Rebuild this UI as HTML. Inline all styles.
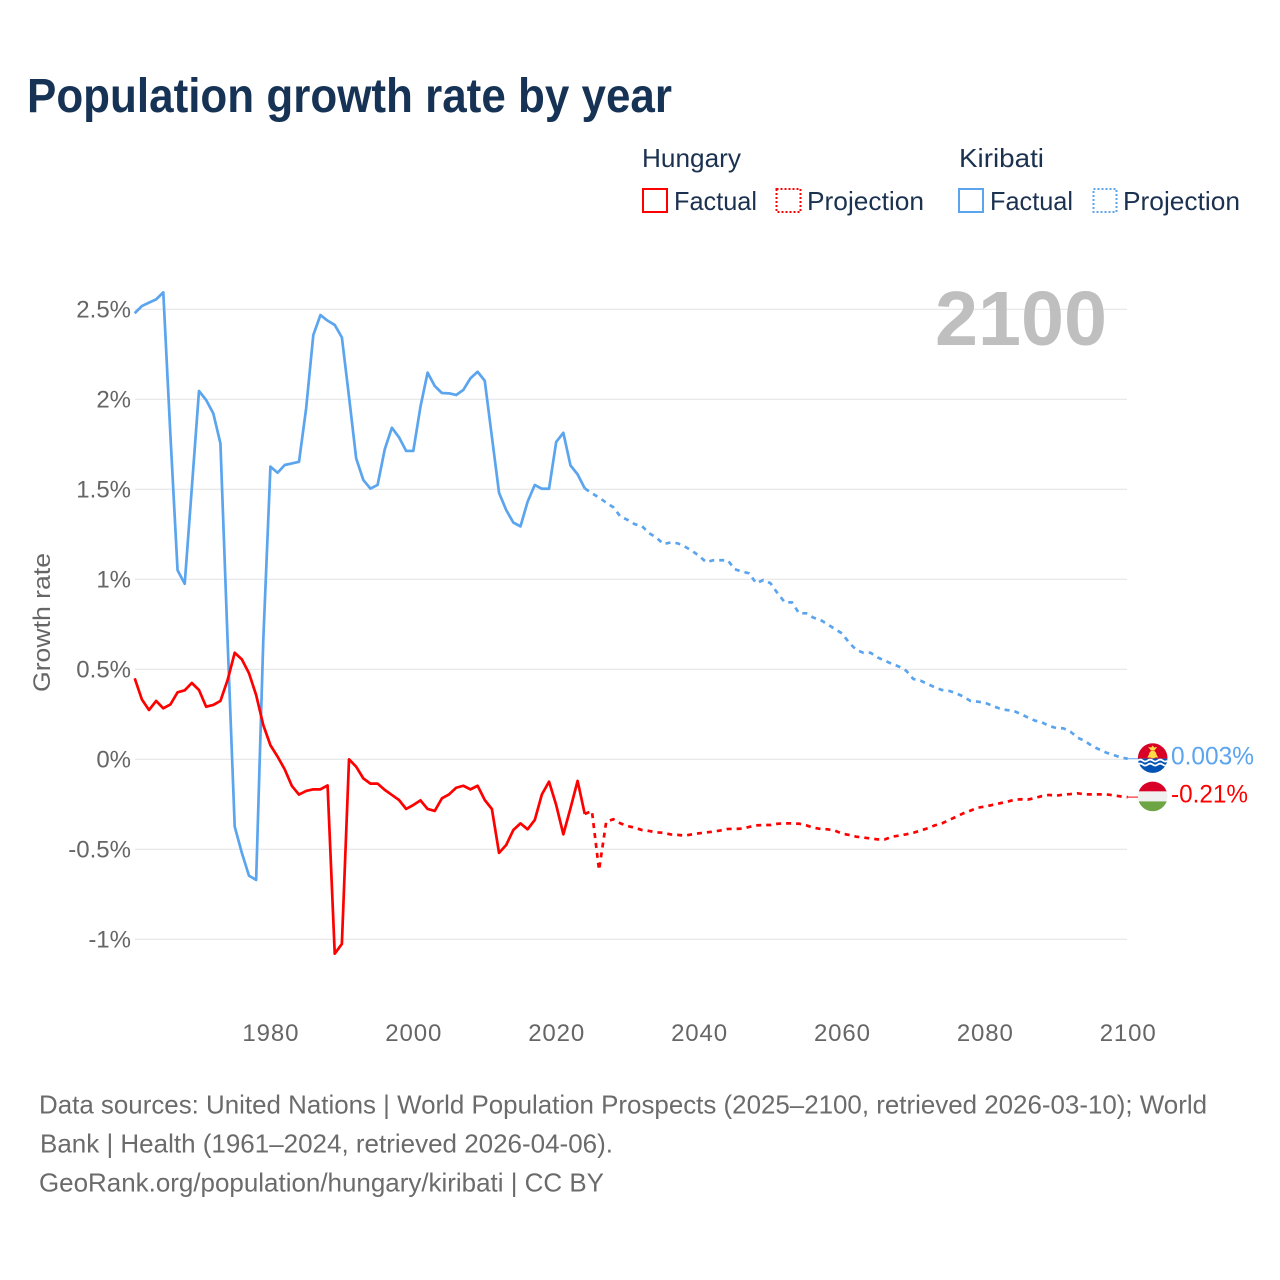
<!DOCTYPE html>
<html lang="en">
<head>
<meta charset="utf-8">
<title>Population growth rate by year</title>
<style>
html,body{margin:0;padding:0;background:#fff;width:1280px;height:1280px;overflow:hidden}
svg{display:block}
text{font-family:"Liberation Sans",sans-serif}
.tick{font-size:24px;fill:#666}
.legend{font-size:26px;fill:#1b3150}
.src{font-size:26px;fill:#6b6b6b}
</style>
</head>
<body>
<svg id="chart" xmlns="http://www.w3.org/2000/svg" width="1280" height="1280" viewBox="0 0 1280 1280">
  <rect x="0" y="0" width="1280" height="1280" fill="#fff"/>
  <text x="27" y="112" font-size="48" font-weight="700" fill="#163255" textLength="645" lengthAdjust="spacingAndGlyphs">Population growth rate by year</text>

  <g>
    <text class="legend" x="642" y="167" textLength="99" lengthAdjust="spacingAndGlyphs">Hungary</text>
    <text class="legend" x="959" y="167" textLength="85" lengthAdjust="spacingAndGlyphs">Kiribati</text>
    <rect x="643" y="189" width="24" height="23" fill="none" stroke="#ff0000" stroke-width="2"/>
    <text class="legend" x="674" y="210" textLength="83" lengthAdjust="spacingAndGlyphs">Factual</text>
    <rect x="776.5" y="189" width="24" height="23" fill="none" stroke="#ff0000" stroke-width="2" stroke-dasharray="2 2"/>
    <text class="legend" x="807" y="210" textLength="117" lengthAdjust="spacingAndGlyphs">Projection</text>
    <rect x="959" y="189" width="24" height="23" fill="none" stroke="#5ba4ee" stroke-width="2"/>
    <text class="legend" x="990" y="210" textLength="83" lengthAdjust="spacingAndGlyphs">Factual</text>
    <rect x="1093.5" y="189" width="23" height="23" fill="none" stroke="#5ba4ee" stroke-width="2" stroke-dasharray="2 2"/>
    <text class="legend" x="1123" y="210" textLength="117" lengthAdjust="spacingAndGlyphs">Projection</text>
  </g>

  <g id="grid"></g>
  <text x="935" y="345" font-size="77" font-weight="700" fill="#bfbfbf" textLength="172" lengthAdjust="spacingAndGlyphs">2100</text>
  <g id="yticks"></g>
  <g id="xticks"></g>
  <text transform="translate(50 692) rotate(-90)" font-size="24" fill="#666" textLength="139" lengthAdjust="spacingAndGlyphs">Growth rate</text>
  <g id="series"></g>

  <defs>
    <clipPath id="flag-clip"><circle cx="0" cy="0" r="14.8"/></clipPath>
  </defs>
  <g id="flag-kiribati">
    <g clip-path="url(#flag-clip)">
      <rect x="-15" y="-15" width="30" height="15.5" fill="#d80027"/>
      <rect x="-15" y="0.5" width="30" height="15" fill="#0052b4"/>
      <path d="M-15 2.5q2.5-2 5 0t5 0 5 0 5 0 5 0 5 0" fill="none" stroke="#fff" stroke-width="1.8"/>
      <path d="M-15 6.5q2.5-2 5 0t5 0 5 0 5 0 5 0 5 0" fill="none" stroke="#fff" stroke-width="1.8"/>
      <circle cx="0" cy="-3.5" r="3.8" fill="#ffda44"/>
      <path d="M-5.5-0.5L-3-4.5-1.5-7 0-5 1.5-7 3-4.5 5.5-0.5z" fill="#ffda44"/>
      <path d="M-4.5-11l3 0.4L0-12.5l1.5 1.9 3-0.4-2 2.5-0.5 1h-4l-0.5-1z" fill="#ffda44"/>
    </g>
  </g>
  <g id="flag-hungary">
    <g clip-path="url(#flag-clip)">
      <rect x="-15" y="-15" width="30" height="10" fill="#d80027"/>
      <rect x="-15" y="-5" width="30" height="10" fill="#f0f0f0"/>
      <rect x="-15" y="5" width="30" height="10" fill="#6da544"/>
    </g>
  </g>
  <g id="endlabels"></g>

  <g>
    <text class="src" x="39" y="1113.5" textLength="1168" lengthAdjust="spacingAndGlyphs">Data sources: United Nations | World Population Prospects (2025–2100, retrieved 2026-03-10); World</text>
    <text class="src" x="40" y="1152.5" textLength="573" lengthAdjust="spacingAndGlyphs">Bank | Health (1961–2024, retrieved 2026-04-06).</text>
    <text class="src" x="39" y="1191.5" textLength="565" lengthAdjust="spacingAndGlyphs">GeoRank.org/population/hungary/kiribati | CC BY</text>
  </g>
</svg>
<script>
var yTickValues = [2.5, 2, 1.5, 1, 0.5, 0, -0.5, -1];
var yTickLabels = ["2.5%", "2%", "1.5%", "1%", "0.5%", "0%", "-0.5%", "-1%"];
var xTickYears = [1980, 2000, 2020, 2040, 2060, 2080, 2100];
var xTickLabels = ["1980", "2000", "2020", "2040", "2060", "2080", "2100"];

var factualStartYear = 1961;
var projectionStartYear = 2024;

var kiribatiFactual = [
  2.478, 2.518, 2.537, 2.555, 2.594, 1.80, 1.05, 0.975, 1.51, 2.046,
  1.996, 1.922, 1.755, 0.663, -0.374, -0.52, -0.647, -0.67, 0.663, 1.626,
  1.592, 1.635, 1.644, 1.653, 1.95, 2.357, 2.468, 2.437, 2.413, 2.344,
  2.014, 1.672, 1.552, 1.504, 1.524, 1.722, 1.842, 1.789, 1.713, 1.713,
  1.959, 2.148, 2.074, 2.035, 2.033, 2.024, 2.052, 2.117, 2.153, 2.103,
  1.792, 1.481, 1.385, 1.315, 1.294, 1.431, 1.524, 1.503, 1.503, 1.763,
  1.814, 1.633, 1.583, 1.505
];
var kiribatiProjection = [
  1.505, 1.478, 1.454, 1.426, 1.40, 1.348, 1.33, 1.306, 1.296, 1.256,
  1.233, 1.196, 1.204, 1.20, 1.182, 1.159, 1.13, 1.095, 1.106, 1.106,
  1.106, 1.056, 1.043, 1.033, 0.978, 0.996, 0.978, 0.922, 0.872, 0.872,
  0.811, 0.811, 0.787, 0.774, 0.75, 0.724, 0.70, 0.648, 0.608, 0.592,
  0.592, 0.566, 0.548, 0.53, 0.515, 0.492, 0.446, 0.437, 0.418, 0.40,
  0.385, 0.38, 0.367, 0.348, 0.324, 0.32, 0.315, 0.298, 0.283, 0.274,
  0.27, 0.252, 0.233, 0.215, 0.205, 0.185, 0.174, 0.172, 0.153, 0.12,
  0.102, 0.074, 0.055, 0.037, 0.024, 0.011, 0.003
];
var hungaryFactual = [
  0.45, 0.333, 0.274, 0.324, 0.283, 0.305, 0.372, 0.383, 0.424, 0.385,
  0.292, 0.302, 0.324, 0.44, 0.592, 0.555, 0.478, 0.357, 0.19, 0.078,
  0.015, -0.056, -0.148, -0.196, -0.176, -0.167, -0.167, -0.145, -1.08, -1.026,
  0, -0.041, -0.106, -0.135, -0.135, -0.17, -0.198, -0.226, -0.276, -0.254,
  -0.228, -0.276, -0.287, -0.217, -0.195, -0.158, -0.147, -0.167, -0.147, -0.226,
  -0.276, -0.52, -0.476, -0.393, -0.356, -0.389, -0.337, -0.195, -0.124, -0.254,
  -0.417, -0.272, -0.12, -0.304
];
var hungaryProjection = [
  -0.304, -0.287, -0.615, -0.347, -0.333, -0.356, -0.371, -0.38, -0.393, -0.398,
  -0.406, -0.408, -0.417, -0.42, -0.424, -0.417, -0.411, -0.406, -0.402, -0.395,
  -0.387, -0.387, -0.385, -0.376, -0.367, -0.365, -0.365, -0.358, -0.356, -0.356,
  -0.358, -0.367, -0.38, -0.387, -0.389, -0.396, -0.413, -0.42, -0.43, -0.435,
  -0.44, -0.445, -0.445, -0.43, -0.424, -0.417, -0.408, -0.396, -0.383, -0.367,
  -0.356, -0.337, -0.319, -0.30, -0.285, -0.269, -0.263, -0.254, -0.245, -0.237,
  -0.226, -0.222, -0.224, -0.215, -0.204, -0.198, -0.202, -0.196, -0.193, -0.189,
  -0.195, -0.195, -0.195, -0.195, -0.20, -0.206, -0.21
];
var endLabelKiribati = "0.003%";
var endLabelHungary = "-0.21%";

var NS = "http://www.w3.org/2000/svg";
var RED = "#ff0000";
var BLUE = "#5ba4ee";

function xScale(year) { return 134.7 + (year - 1961) * (993 / 139); }
function yScale(value) { return 759.3 - value * 180; }

function make(tag, attrs, parent) {
  var el = document.createElementNS(NS, tag);
  for (var k in attrs) { el.setAttribute(k, attrs[k]); }
  parent.appendChild(el);
  return el;
}

var gridG = document.getElementById("grid");
var yG = document.getElementById("yticks");
var xG = document.getElementById("xticks");
var seriesG = document.getElementById("series");
var endG = document.getElementById("endlabels");

yTickValues.forEach(function (v, i) {
  var line = make("line", { x1: 135, x2: 1127, y1: yScale(v), y2: yScale(v), stroke: "#e6e6e6", "stroke-width": 1.2 }, gridG);
  
  
  var t = make("text", { x: 131, y: yScale(v) + 8, "text-anchor": "end", "class": "tick" }, yG);
  t.textContent = yTickLabels[i];
  
  
});

xTickYears.forEach(function (year, i) {
  var t = make("text", { x: xScale(year) + 0.5, y: 1041, "text-anchor": "middle", "class": "tick", "letter-spacing": "0.9" }, xG);
  t.textContent = xTickLabels[i];
  
  
});

function pathFrom(values, startYear) {
  return values.map(function (v, i) {
    return (i ? "L" : "M") + xScale(startYear + i).toFixed(2) + " " + yScale(v).toFixed(2);
  }).join("");
}

var kiribatiFactualLine = make("path", { d: pathFrom(kiribatiFactual, factualStartYear), fill: "none", stroke: BLUE, "stroke-width": 2.7, "stroke-linejoin": "round" }, seriesG);



var kiribatiProjectionLine = make("path", { d: pathFrom(kiribatiProjection, projectionStartYear), fill: "none", stroke: BLUE, "stroke-width": 2.7, "stroke-dasharray": "5 5" }, seriesG);



var hungaryFactualLine = make("path", { d: pathFrom(hungaryFactual, factualStartYear), fill: "none", stroke: RED, "stroke-width": 2.7, "stroke-linejoin": "round" }, seriesG);



var hungaryProjectionLine = make("path", { d: pathFrom(hungaryProjection, projectionStartYear), fill: "none", stroke: RED, "stroke-width": 2.7, "stroke-dasharray": "5 5" }, seriesG);



var kEnd = yScale(kiribatiProjection[kiribatiProjection.length - 1]);
var hEnd = yScale(hungaryProjection[hungaryProjection.length - 1]);

var kConnector = make("line", { x1: 1127, x2: 1138, y1: kEnd, y2: kEnd, stroke: BLUE, "stroke-width": 1 }, endG);



var hConnector = make("line", { x1: 1127, x2: 1138, y1: hEnd, y2: hEnd, stroke: RED, "stroke-width": 1 }, endG);



document.getElementById("flag-kiribati").setAttribute("transform", "translate(1152.7 " + (kEnd - 0.7) + ")");
document.getElementById("flag-hungary").setAttribute("transform", "translate(1152.7 " + (hEnd - 0.7) + ")");

var kLabel = make("text", { x: 1171, y: kEnd + 5.5, "font-size": 25, fill: BLUE, textLength: 83, lengthAdjust: "spacingAndGlyphs" }, endG);
kLabel.textContent = endLabelKiribati;



var hLabel = make("text", { x: 1171, y: hEnd + 5.5, "font-size": 25, fill: RED, textLength: 77, lengthAdjust: "spacingAndGlyphs" }, endG);
hLabel.textContent = endLabelHungary;


</script>
</body>
</html>
